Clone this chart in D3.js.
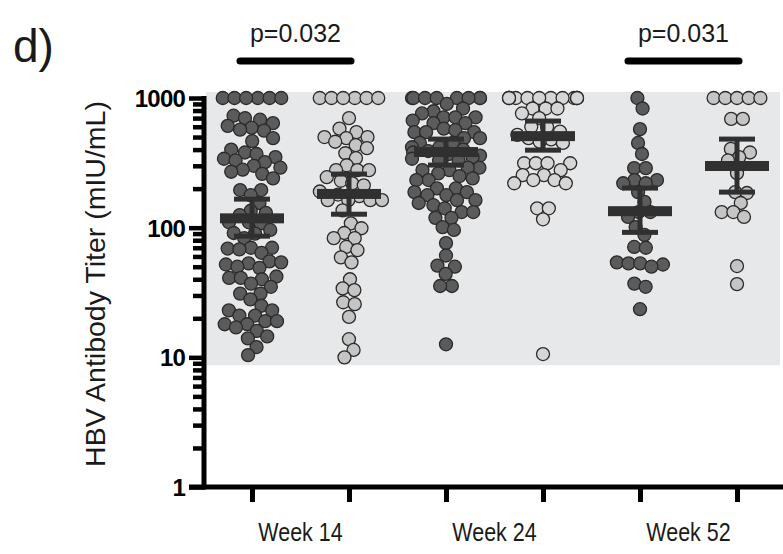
<!DOCTYPE html>
<html>
<head>
<meta charset="utf-8">
<script src="https://cdn.jsdelivr.net/npm/d3@7"></script>
<style>
  body { margin: 0; background: #fff; }
  text { font-family: "Liberation Sans", Arial, sans-serif; }
</style>
</head>
<body>
<div id="chart"></div>
<script>
// groups, two per week (dark / light)
const groups = ["W14a", "W14b", "W24a", "W24b", "W52a", "W52b"]
const weeks = ["Week 14", "Week 24", "Week 52"]
const yTicks = [1, 10, 100, 1000]

// titers, mIU/mL
const w14a = [1000, 1000, 1000, 1000, 1000, 1000, 730, 700, 680, 640, 610, 590, 570, 560, 490, 465,
  400, 380, 370, 350, 340, 330, 320, 300, 290, 280, 270, 260, 240, 195, 195, 178, 155, 135, 130, 125,
  110, 110, 108, 96, 91, 90, 83, 70, 70, 69, 68, 64, 55, 54, 53, 52, 50, 49, 42, 41, 41, 40, 37, 35,
  31, 31, 28, 25, 23, 23, 21, 21, 19, 19, 18, 18, 17, 16, 14.5, 14, 12, 10.4]
const w14b = [1000, 1000, 1000, 1000, 1000, 1000, 700, 580, 545, 500, 500, 490, 460, 433, 410, 375,
  344, 303, 278, 278, 278, 245, 230, 220, 212, 190, 180, 175, 163, 163, 163, 163, 136, 108, 99, 91,
  83, 83, 71, 67, 59, 54, 40, 34, 33, 26.6, 25.7, 20.5, 13.8, 11.4, 10]
const w24a = [1000, 1000, 1000, 1000, 1000, 1000, 1000, 1000, 900, 830, 790, 760, 710, 710, 710, 670,
  640, 640, 580, 565, 545, 545, 545, 490, 490, 450, 450, 417, 417, 400, 390, 380, 370, 360, 350, 340,
  330, 330, 290, 290, 278, 278, 262, 250, 240, 233, 233, 201, 201, 188, 188, 178, 178, 163, 163, 155,
  149, 141, 132, 132, 119, 119, 101, 96, 76, 61, 51, 50, 44, 35.5, 35.5, 12.6]
const w24b = [1000, 1000, 1000, 1000, 1000, 1000, 1000, 1000, 1000, 1000, 1000, 1000, 830, 830, 830,
  760, 700, 600, 600, 550, 520, 490, 480, 460, 450, 314, 314, 314, 314, 278, 254, 254, 233, 233, 220,
  220, 141, 141, 116, 10.6]
const w52a = [1000, 830, 575, 450, 370, 288, 288, 233, 233, 220, 220, 188, 158, 132, 132, 121, 101, 88,
  71, 70, 54, 53, 53, 52, 50, 37, 35, 23.5]
const w52b = [1000, 1000, 1000, 1000, 1000, 690, 690, 405, 380, 350, 330, 263, 188, 185, 155, 132, 132,
  121, 50.6, 36.7]

const means = [118, 182, 383, 508, 134, 299]
const ciLow = [86, 127, 304, 396, 92, 188]
const ciHigh = [166, 259, 482, 664, 202, 482]

const pLabels = ["p=0.032", "p=0.031"]
const pPairs = [[0, 1], [4, 5]]

const titers = [w14a, w14b, w24a, w24b, w52a, w52b]
const fills = ["#5b5b5b", "#c5c5c5", "#5b5b5b", "#d6d6d6", "#5b5b5b", "#c5c5c5"]

const width = 783
const height = 554

const svg = d3.select('#chart')
  .append('svg')
    .attr('width', width)
    .attr('height', height)

const yScale = d3.scaleLog()
  .domain([1, 1000])
  .range([487, 98])

const xScale = d3.scalePoint()
  .domain(groups)
  .range([252, 737])

// shaded band
svg.append('rect')
  .attr('x', 206)
  .attr('y', yScale(1000) - 6)
  .attr('width', 780 - 206)
  .attr('height', yScale(8.7) - yScale(1000) + 6)
  .attr('fill', '#e7e8e9')

// swarm layout: y fixed by value, x pushed apart
const r = 6.5
titers.forEach((vals, gi) => {
  const cx = xScale(groups[gi])
  const nodes = vals.map((v, i) => ({ v, x: cx + ((i % 5) - 2) * 2, fy: yScale(v) }))
  const sim = d3.forceSimulation(nodes)
    .force('x', d3.forceX(cx).strength(0.08))
    .force('collide', d3.forceCollide(r * 0.9).iterations(3))
    .stop()
  for (let i = 0; i < 300; i++) sim.tick()
  nodes.forEach(n => { n.x = Math.max(cx - 34, Math.min(cx + 34, n.x)) })

  svg.append('g')
    .selectAll('circle')
    .data(nodes)
    .enter()
    .append('circle')
      .attr('cx', d => d.x)
      .attr('cy', d => d.fy)
      .attr('r', r)
      .attr('fill', fills[gi])
      .attr('stroke', '#2b2b2b')
      .attr('stroke-width', 1.3)
})

// mean and 95% CI
const stats = svg.append('g').attr('fill', '#303030')
groups.forEach((g, i) => {
  const cx = xScale(g)
  stats.append('rect')
    .attr('x', cx - 2.5).attr('width', 5)
    .attr('y', yScale(ciHigh[i])).attr('height', yScale(ciLow[i]) - yScale(ciHigh[i]))
  stats.append('rect')
    .attr('x', cx - 18).attr('width', 36)
    .attr('y', yScale(ciHigh[i]) - 2.5).attr('height', 5)
  stats.append('rect')
    .attr('x', cx - 18).attr('width', 36)
    .attr('y', yScale(ciLow[i]) - 2.5).attr('height', 5)
  stats.append('rect')
    .attr('x', cx - 32).attr('width', 64)
    .attr('y', yScale(means[i]) - 5).attr('height', 10)
})

// y axis
const minor = []
for (let d = 1; d < 1000; d *= 10) for (let k = 2; k <= 9; k++) minor.push(d * k)

const yMinor = svg.append('g')
  .attr('transform', 'translate(204,0)')
  .call(d3.axisLeft(yScale).tickValues(minor).tickSize(11).tickFormat(''))
yMinor.select('.domain').remove()

const yAxis = svg.append('g')
  .attr('transform', 'translate(204,0)')
  .call(d3.axisLeft(yScale).tickValues(yTicks).tickSize(15).tickSizeOuter(0).tickPadding(4)
    .tickFormat(d3.format('d')))
yAxis.selectAll('text')
  .attr('font-size', 24)
  .attr('font-weight', 'bold')
  .attr('letter-spacing', -0.8)
  .attr('fill', '#000')
  .attr('dy', '0.36em')

svg.selectAll('.tick line').attr('stroke', '#000').attr('stroke-width', 4.5)
yAxis.select('.domain').attr('stroke', '#000').attr('stroke-width', 5)
  .attr('d', 'M0,' + (yScale(1) + 2.5) + 'V' + (yScale(1000) - 2))

// x axis
const xAxis = svg.append('g')
  .attr('transform', 'translate(0,' + yScale(1) + ')')
  .call(d3.axisBottom(xScale).tickSize(15).tickSizeOuter(0).tickFormat(''))
xAxis.select('.domain').attr('stroke', '#000').attr('stroke-width', 5)
  .attr('d', 'M189,0H783')
xAxis.selectAll('.tick line').attr('stroke', '#000').attr('stroke-width', 5)

svg.selectAll()
  .data(weeks)
  .enter()
  .append('text')
    .attr('transform', (d, i) => 'translate(' +
      (xScale(groups[i * 2]) + xScale(groups[i * 2 + 1])) / 2 + ',541) scale(0.86,1)')
    .attr('text-anchor', 'middle')
    .attr('font-size', 25)
    .attr('fill', '#1a1a1a')
    .text(d => d)

// y label
svg.append('text')
  .attr('transform', 'translate(105,284) rotate(-90)')
  .attr('text-anchor', 'middle')
  .attr('font-size', 28.5)
  .attr('fill', '#1a1a1a')
  .text('HBV Antibody Titer (mIU/mL)')

// panel letter
svg.append('text')
  .attr('x', 13)
  .attr('y', 62)
  .attr('font-size', 46)
  .attr('fill', '#1a1a1a')
  .text('d)')

// significance brackets
pPairs.forEach((p, i) => {
  const x0 = xScale(groups[p[0]]) - 12
  const x1 = xScale(groups[p[1]]) + 2
  svg.append('line')
    .attr('x1', x0).attr('x2', x1)
    .attr('y1', 61).attr('y2', 61)
    .attr('stroke', '#000')
    .attr('stroke-width', 7)
    .attr('stroke-linecap', 'round')
  svg.append('text')
    .attr('x', (x0 + x1) / 2)
    .attr('y', 42)
    .attr('text-anchor', 'middle')
    .attr('font-size', 25)
    .attr('fill', '#1a1a1a')
    .text(pLabels[i])
})
</script>
</body>
</html>
